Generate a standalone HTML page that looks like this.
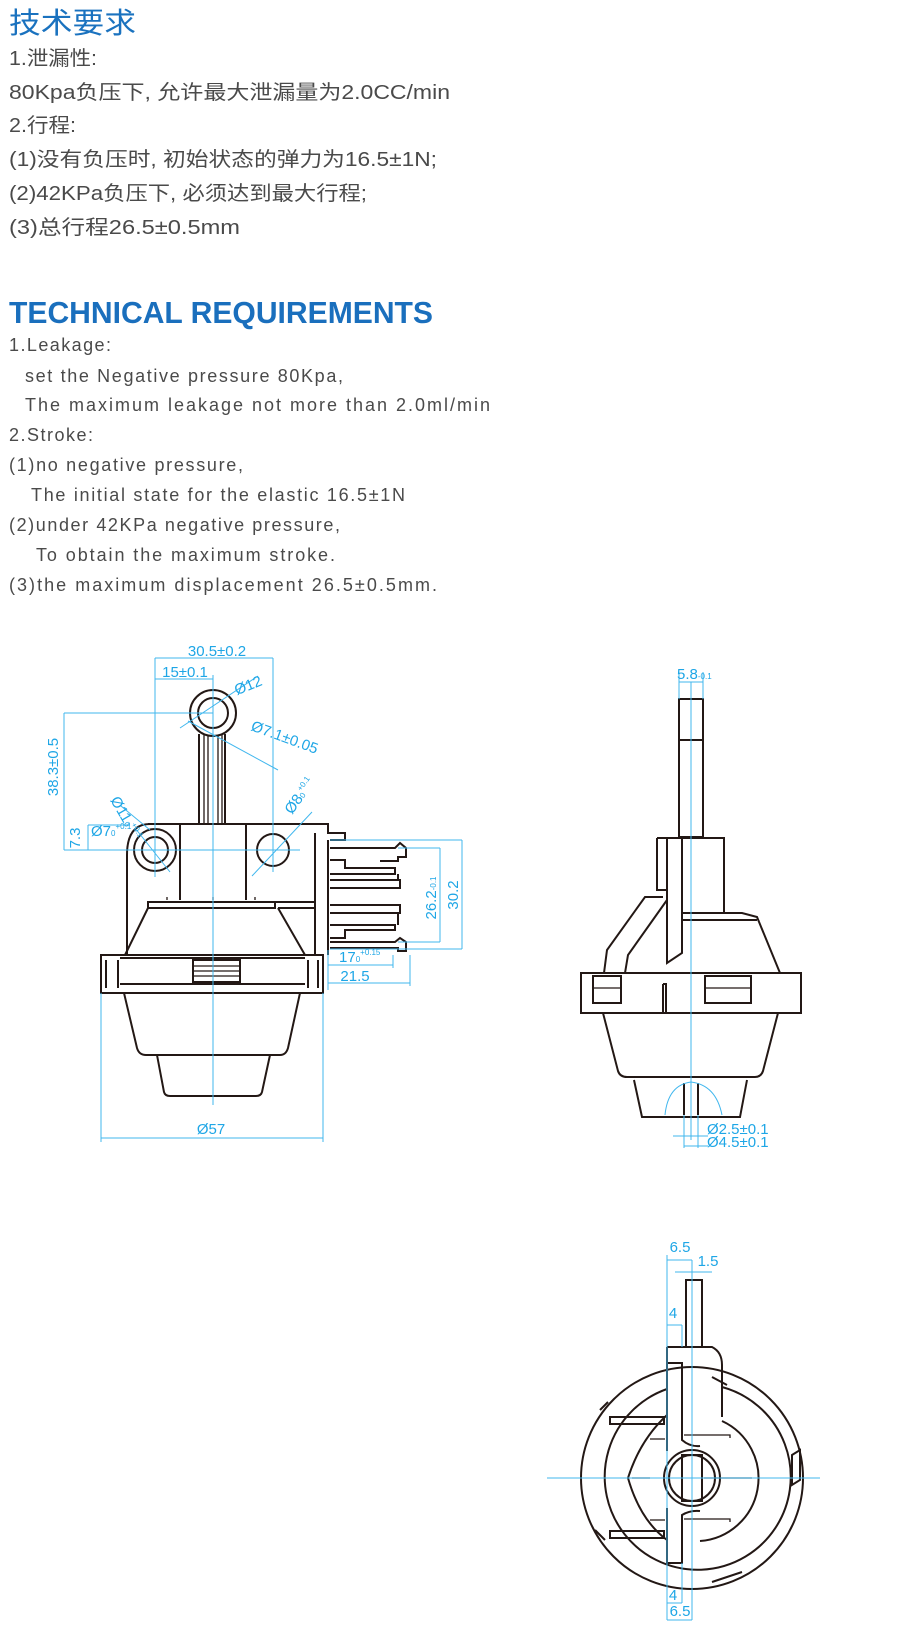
<!DOCTYPE html>
<html><head><meta charset="utf-8"><style>
html,body{margin:0;padding:0;background:#fff;}
svg{display:block}
.cn{font-family:"Liberation Sans","Noto Sans CJK SC",sans-serif;font-size:20px;fill:#4a4a4a}
.en{font-family:"Liberation Sans",sans-serif;font-size:18px;fill:#4a4a4a}
.d{font-family:"Liberation Sans",sans-serif;font-size:15px;fill:#1ea6e6}
.ds{font-family:"Liberation Sans",sans-serif;font-size:8px;fill:#1ea6e6}
.b{fill:none;stroke:#231815;stroke-width:2}
.bt{fill:none;stroke:#231815;stroke-width:1.3}
.c{fill:none;stroke:#41b7ee;stroke-width:1}
</style></head><body>
<svg width="900" height="1645" viewBox="0 0 900 1645" xmlns="http://www.w3.org/2000/svg">
<text x="9" y="33" font-family="Liberation Sans,'Noto Sans CJK SC',sans-serif" font-size="29" fill="#1a72bf" textLength="127" lengthAdjust="spacingAndGlyphs">技术要求</text>
<text class="cn" x="9" y="65" textLength="88" lengthAdjust="spacingAndGlyphs">1.泄漏性:</text>
<text class="cn" x="9" y="99" textLength="441" lengthAdjust="spacingAndGlyphs">80Kpa负压下, 允许最大泄漏量为2.0CC/min</text>
<text class="cn" x="9" y="132" textLength="67" lengthAdjust="spacingAndGlyphs">2.行程:</text>
<text class="cn" x="9" y="166" textLength="428" lengthAdjust="spacingAndGlyphs">(1)没有负压时, 初始状态的弹力为16.5±1N;</text>
<text class="cn" x="9" y="200" textLength="358" lengthAdjust="spacingAndGlyphs">(2)42KPa负压下, 必须达到最大行程;</text>
<text class="cn" x="9" y="234" textLength="231" lengthAdjust="spacingAndGlyphs">(3)总行程26.5±0.5mm</text>
<text x="9" y="323" font-family="Liberation Sans,sans-serif" font-weight="bold" font-size="31" fill="#1a6fbd" textLength="424" lengthAdjust="spacingAndGlyphs">TECHNICAL REQUIREMENTS</text>
<text class="en" x="9" y="351" textLength="102">1.Leakage:</text>
<text class="en" x="25" y="382" textLength="318">set the Negative pressure 80Kpa,</text>
<text class="en" x="25" y="411" textLength="465">The maximum leakage not more than 2.0ml/min</text>
<text class="en" x="9" y="441" textLength="84">2.Stroke:</text>
<text class="en" x="9" y="471" textLength="234">(1)no negative pressure,</text>
<text class="en" x="31" y="501" textLength="374">The initial state for the elastic 16.5±1N</text>
<text class="en" x="9" y="531" textLength="331">(2)under 42KPa negative pressure,</text>
<text class="en" x="36" y="561" textLength="299">To obtain the maximum stroke.</text>
<text class="en" x="9" y="591" textLength="428">(3)the maximum displacement 26.5±0.5mm.</text>

<g>
<circle class="b" cx="213" cy="713" r="23"/>
<circle class="b" cx="213" cy="713" r="15"/>
<path class="b" d="M199 734 V824 M225 734 V824"/>
<path class="bt" d="M204 735 V824 M208 735 V824 M218 735 V824 M222 735 V824"/>
<path class="b" d="M148 824 H328 V833 H345 V840 H330 M328 840 V955 M315 833 V955"/>
<path class="b" d="M127 955 V855 Q127 824 150 824"/>
<path class="b" d="M180 824 V900 M246 824 V900"/>
<circle class="b" cx="155" cy="850" r="21"/>
<circle class="b" cx="155" cy="850" r="13"/>
<circle class="b" cx="273" cy="850" r="16"/>
<path class="b" d="M148 908 V902 H275 V908 H148 M275 902 H315 M278 908 H315"/>
<path class="bt" d="M167 900 v-3 M213 900 v-3 M255 900 v-3"/>
<path class="b" d="M148 908 L125 955 M278 908 L305 955"/>
<path class="b" d="M330 848 H395 l5 -5 l6 5 v9 h-8 v4 h-18 M330 860 H345 V868 H395 v6 h-65"/>
<path class="b" d="M330 880 H400 V888 H330 M330 905 H400 V913 H330 M330 925 H395 v5 H345 V938 H330 M330 942 H395 l5 -4 l6 4 v9 h-8 v-4"/>
<path class="b" d="M398 874 v6 M398 913 v12 M330 948 H398"/>
<rect class="b" x="101" y="955" width="222" height="38"/>
<path class="b" d="M120 958 H305 M106 960 V988 M118 960 V988 M308 960 V988 M318 960 V988 M120 984 H305"/>
<rect class="b" x="193" y="960" width="47" height="22"/>
<path class="bt" d="M193 966 H240 M193 971 H240 M193 976 H240"/>
<path class="b" d="M124 993 L137 1048 Q139 1055 146 1055 H280 Q286 1055 288 1048 L300 993"/>
<path class="b" d="M157 1055 L164 1092 Q165 1096 170 1096 H256 Q261 1096 262 1092 L270 1055"/>
</g>
<g class="c">
<path d="M213 675 V1105"/>
<path d="M155 658 V877 M273 658 V872 M155 658 H273 M155 679 H213"/>
<path d="M64 713 H213 M64 850 H300 M64 713 V850 M88 825 V850 M88 825 H130"/>
<path d="M180 728 L258 676 M188 721 L278 770 M135 828 L170 872 M252 876 L312 812 M121 806 L150 830"/>
<path d="M101 993 V1142 M323 993 V1142 M101 1138 H323"/>
<path d="M330 840 H462 M398 848 H440 M398 942 H440 M330 949 H462 M440 848 V942 M462 840 V949"/>
<path d="M328 950 V990 M393 955 V968 M410 955 V986 M328 965 H393 M328 983 H410"/>
</g>
<text class="d" x="217" y="656" text-anchor="middle">30.5±0.2</text>
<text class="d" x="185" y="677" text-anchor="middle">15±0.1</text>
<text class="d" transform="translate(250 690) rotate(-22)" text-anchor="middle">Ø12</text>
<text class="d" transform="translate(283 742) rotate(20)" text-anchor="middle">Ø7.1±0.05</text>
<text class="d" transform="translate(58 767) rotate(-90)" text-anchor="middle">38.3±0.5</text>
<text class="d" transform="translate(80 838) rotate(-90)" text-anchor="middle">7.3</text>
<text class="d" transform="translate(110 800) rotate(60)">Ø11<tspan class="ds">0</tspan><tspan class="ds" dy="-6">+0.1</tspan></text>
<text class="d" x="91" y="836">Ø7<tspan class="ds">0</tspan><tspan class="ds" dy="-7">+0.1</tspan></text>
<text class="d" transform="translate(292 815) rotate(-55)">Ø8<tspan class="ds">0</tspan><tspan class="ds" dy="-6">+0.1</tspan></text>
<text class="d" transform="translate(436 898) rotate(-90)" text-anchor="middle">26.2<tspan class="ds">-0.1</tspan></text>
<text class="d" transform="translate(458 895) rotate(-90)" text-anchor="middle">30.2</text>
<text class="d" x="339" y="962">17<tspan class="ds">0</tspan><tspan class="ds" dy="-7">+0.15</tspan></text>
<text class="d" x="355" y="981" text-anchor="middle">21.5</text>
<text class="d" x="211" y="1134" text-anchor="middle">Ø57</text>

<g>
<rect class="b" x="679" y="699" width="24" height="138"/>
<path class="b" d="M679 740 H703"/>
<path class="b" d="M657 838 H724 V913 M657 838 V890 H667 M667 838 V963 L682 953 V838"/>
<path class="b" d="M682 913 H742 L757 917 L780 973 M682 920 H757"/>
<path class="b" d="M663 897 H645 L607 950 L604 973 M667 900 L628 955 L625 973"/>
<rect class="b" x="581" y="973" width="220" height="40"/>
<path class="b" d="M663 984 V1013 M663 984 h3 v29"/>
<rect class="b" x="593" y="976" width="28" height="27"/>
<rect class="b" x="705" y="976" width="46" height="27"/>
<path class="bt" d="M593 988 H621 M705 988 H751"/>
<path class="b" d="M603 1013 L618 1071 Q620 1077 627 1077 H755 Q761 1077 763 1071 L778 1013"/>
<path class="b" d="M634 1080 L642 1117 H740 L747 1080"/>
<path class="b" d="M684 1083 V1115 M698 1083 V1115"/>
</g>
<g class="c">
<path d="M691 682 V1140 M679 672 V699 M703 672 V699 M679 682 H703"/>
<path d="M665 1115 Q668 1085 691 1082 Q716 1085 722 1115"/>
<path d="M684 1115 V1148 M698 1115 V1148 M673 1136 H708 M684 1146 H708 M695 1136 h10"/>
</g>
<text class="d" x="677" y="679">5.8<tspan class="ds">-0.1</tspan></text>
<text class="d" x="707" y="1134">Ø2.5±0.1</text>
<text class="d" x="707" y="1147">Ø4.5±0.1</text>

<g>
<circle class="b" cx="692" cy="1478" r="111"/>
<path class="b" d="M722 1387 A93 93 0 1 1 667 1389"/>
<path class="b" d="M722 1421 A63 63 0 0 1 700 1541 M667 1415 Q640 1440 628 1478 Q640 1520 667 1540"/>
<circle class="b" cx="692" cy="1478" r="28"/>
<circle class="b" cx="692" cy="1478" r="23"/>
<rect class="b" x="682" y="1455" width="20" height="46"/>
<rect class="b" x="686" y="1280" width="16" height="67"/>
<path class="b" d="M667 1347 H712 Q722 1352 722 1365 V1417 M667 1347 V1363"/>
<path class="b" d="M667 1363 H682 V1440 Q690 1447 700 1446 M667 1363 V1451 M667 1508 V1563 H682 V1515 Q690 1510 700 1511"/>
<path class="b" d="M610 1417 H664 V1424 H610 Z M610 1531 H664 V1538 H610 Z"/>
<path class="bt" d="M650 1439 H665 M684 1435 H730 V1438 M650 1520 H665 M684 1519 H730 V1522 M632 1478 H650 M704 1478 H752"/>
<path class="b" d="M792 1455 l8 -5 v30 l-8 5 Z M600 1410 l8 -8 M595 1530 l10 10 M712 1377 l15 8 M712 1582 l30 -10"/>
</g>
<g class="c">
<path d="M547 1478 H820 M692 1260 V1620 M667 1255 V1620 M682 1325 V1347 M682 1563 V1603"/>
<path d="M667 1260 H692 M675 1272 H712 M667 1325 H682 M667 1603 H682 M667 1620 H692"/>
</g>
<text class="d" x="680" y="1252" text-anchor="middle">6.5</text>
<text class="d" x="708" y="1266" text-anchor="middle">1.5</text>
<text class="d" x="673" y="1318" text-anchor="middle">4</text>
<text class="d" x="673" y="1600" text-anchor="middle">4</text>
<text class="d" x="680" y="1616" text-anchor="middle">6.5</text>
</svg>
</body></html>
